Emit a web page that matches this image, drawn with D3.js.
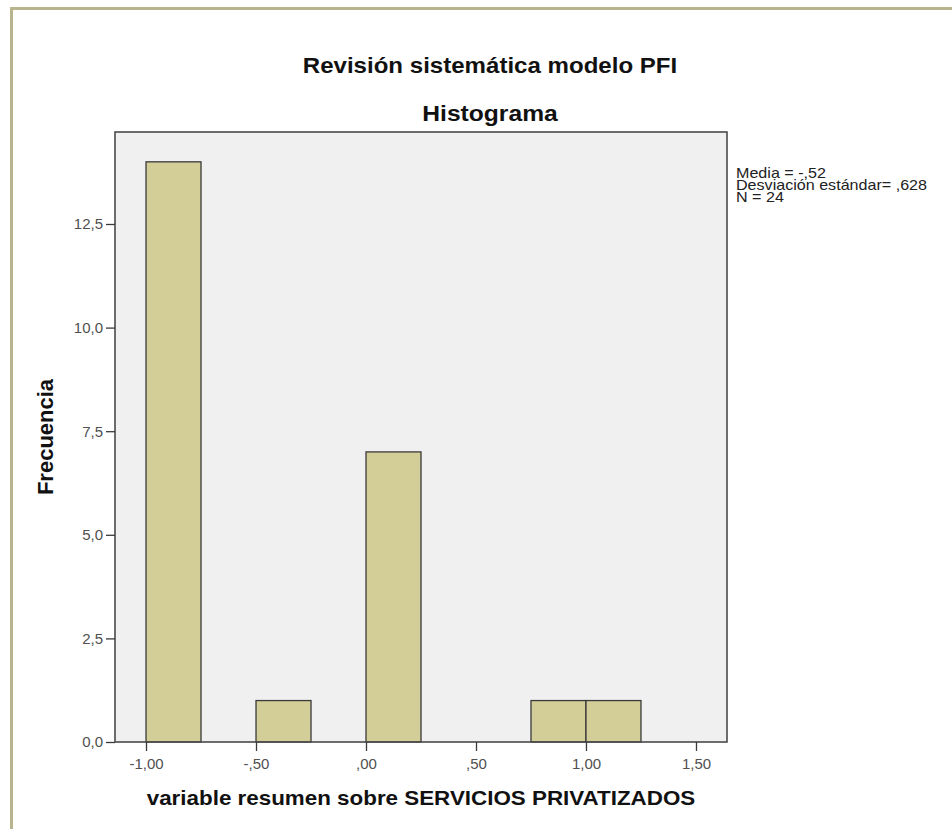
<!DOCTYPE html>
<html>
<head>
<meta charset="utf-8">
<script src="https://cdn.jsdelivr.net/npm/d3@7"></script>
<style>
  html, body { margin: 0; padding: 0; background: #ffffff; }
  svg { display: block; }
  text { font-family: "Liberation Sans", Arial, sans-serif; }
</style>
</head>
<body>
<svg id="chart" width="952" height="829"></svg>
<script>
// ---- data ----
const binStarts = [-1.0, -0.5, 0.0, 0.75, 1.0];
const binEnds   = [-0.75, -0.25, 0.25, 1.0, 1.25];
const counts    = [14, 1, 7, 1, 1];
const xTicks = [-1.0, -0.5, 0.0, 0.5, 1.0, 1.5];
const xTickLabels = ["-1,00", "-,50", ",00", ",50", "1,00", "1,50"];
const yTicks = [0, 2.5, 5, 7.5, 10, 12.5];
const yTickLabels = ["0,0", "2,5", "5,0", "7,5", "10,0", "12,5"];
const titleText = "Revisión sistemática modelo PFI";
const subtitleText = "Histograma";
const xLabel = "variable resumen sobre SERVICIOS PRIVATIZADOS";
const yLabel = "Frecuencia";
const statsLines = ["Media = -,52", "Desviación estándar= ,628", "N = 24"];

// ---- layout ----
const svg = d3.select("#chart");
const plot = { left: 115, top: 132, right: 727, bottom: 742 };

const x = d3.scaleLinear().domain([-1.141, 1.641]).range([plot.left, plot.right]);
const y = d3.scaleLinear().domain([0, 14.72]).range([plot.bottom, plot.top]);

// outer frame (top + left lines)
svg.append("path")
  .attr("d", `M11.5,829 L11.5,8.5 L952,8.5`)
  .attr("fill", "none")
  .attr("stroke", "#b8b48e")
  .attr("stroke-width", 3);

// plot background
svg.append("rect")
  .attr("x", plot.left).attr("y", plot.top)
  .attr("width", plot.right - plot.left).attr("height", plot.bottom - plot.top)
  .attr("fill", "#f0f0f0");

// bars
svg.append("g").selectAll("rect")
  .data(counts)
  .join("rect")
  .attr("x", (d, i) => x(binStarts[i]))
  .attr("y", d => y(d))
  .attr("width", (d, i) => x(binEnds[i]) - x(binStarts[i]))
  .attr("height", d => y(0) - y(d))
  .attr("fill", "#d3ce97")
  .attr("stroke", "#3a3a3a")
  .attr("stroke-width", 1.3);

// plot frame
svg.append("rect")
  .attr("x", plot.left).attr("y", plot.top)
  .attr("width", plot.right - plot.left).attr("height", plot.bottom - plot.top)
  .attr("fill", "none")
  .attr("stroke", "#4a4a4a")
  .attr("stroke-width", 1.6);

// axes
const xAxis = d3.axisBottom(x)
  .tickValues(xTicks)
  .tickFormat((d, i) => xTickLabels[i])
  .tickSize(9).tickPadding(7);
const gx = svg.append("g").attr("transform", `translate(0,${plot.bottom})`).call(xAxis);
gx.select(".domain").remove();
gx.selectAll(".tick line").attr("stroke", "#3a3a3a").attr("stroke-width", 1.3);
gx.selectAll(".tick text")
  .attr("fill", "#505050")
  .style("font-family", "'Liberation Sans', Arial, sans-serif")
  .style("font-size", "15px");

const yAxis = d3.axisLeft(y)
  .tickValues(yTicks)
  .tickFormat((d, i) => yTickLabels[i])
  .tickSize(9).tickPadding(3);
const gy = svg.append("g").attr("transform", `translate(${plot.left},0)`).call(yAxis);
gy.select(".domain").remove();
gy.selectAll(".tick line").attr("stroke", "#3a3a3a").attr("stroke-width", 1.3);
gy.selectAll(".tick text")
  .attr("fill", "#505050")
  .style("font-family", "'Liberation Sans', Arial, sans-serif")
  .style("font-size", "15px");

// titles
svg.append("text")
  .attr("transform", "translate(490,73) scale(1.12,1)")
  .attr("text-anchor", "middle")
  .style("font-size", "21.5px").style("font-weight", "bold")
  .attr("fill", "#111")
  .text(titleText);

svg.append("text")
  .attr("transform", "translate(490,121) scale(1.12,1)")
  .attr("text-anchor", "middle")
  .style("font-size", "22px").style("font-weight", "bold")
  .attr("fill", "#111")
  .text(subtitleText);

svg.append("text")
  .attr("transform", `translate(${(plot.left + plot.right) / 2},805) scale(1.12,1)`)
  .attr("text-anchor", "middle")
  .style("font-size", "20px").style("font-weight", "bold")
  .attr("fill", "#111")
  .text(xLabel);

svg.append("text")
  .attr("transform", `translate(53,${(plot.top + plot.bottom) / 2}) rotate(-90)`)
  .attr("text-anchor", "middle")
  .style("font-size", "22px").style("font-weight", "bold")
  .attr("fill", "#111")
  .text(yLabel);

// stats legend (one text block, tight line spacing)
const legend = svg.append("text")
  .attr("transform", "translate(736,178) scale(1.15,1)")
  .style("font-size", "14px")
  .attr("fill", "#222");
legend.selectAll("tspan")
  .data(statsLines)
  .join("tspan")
  .attr("x", 0)
  .attr("y", (d, i) => i * 11.8)
  .text(d => d);
</script>
</body>
</html>
